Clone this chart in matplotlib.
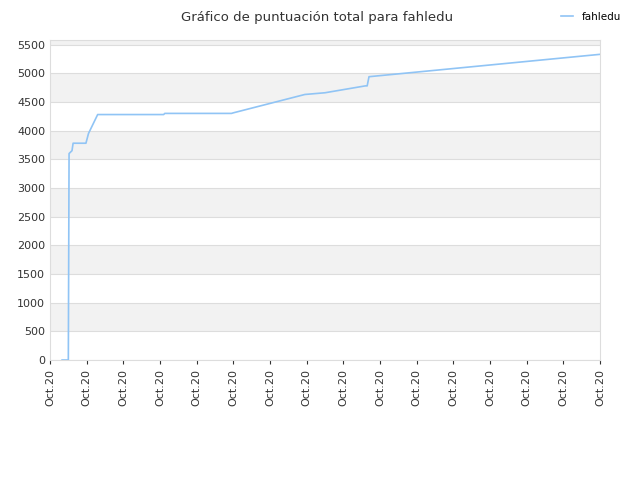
import matplotlib
matplotlib.use("Agg")
import matplotlib.pyplot as plt

x_vals = [0.33, 0.5, 0.52, 0.6, 0.63, 0.98, 1.05, 1.3, 3.1, 3.13, 4.95, 5.0, 6.95, 7.5, 8.6, 8.65, 8.7, 15.0]
y_vals = [0, 0, 3600, 3650, 3780, 3780, 3950, 4280, 4280, 4300, 4300, 4310, 4630, 4660, 4780, 4780, 4940, 5330]
tick_labels = ["Oct.20"] * 16

fig = plt.figure(figsize=(6.4, 4.8), dpi=100)
ax = fig.add_axes([50/640, 1-360/480, 550/640, 320/480])
ymax = 5580
for lo in range(500, 6000, 1000):
    ax.axhspan(lo, min(lo + 500, ymax), color="#f2f2f2", zorder=0, lw=0)
for y in range(0, 6000, 500):
    ax.axhline(y, color="#dddddd", lw=0.8, zorder=1)
ax.plot(x_vals, y_vals, color="#90c4f5", lw=1.2, zorder=3, label="fahledu")
ax.set_xlim(0, 15)
ax.set_ylim(0, ymax)
ax.set_yticks(range(0, 6000, 500))
ax.set_xticks(range(16))
ax.set_xticklabels(tick_labels, rotation=90)
ax.tick_params(labelsize=8, colors="#333333", length=3)
ax.tick_params(axis="y", length=0)
for s in ax.spines.values():
    s.set_color("#dddddd")
fig.text(0.495, 0.978, "Gráfico de puntuación total para fahledu", ha="center", va="top", fontsize=9.5, color="#333333")
fig.legend(loc="upper right", bbox_to_anchor=(0.985, 0.995), frameon=False, fontsize=7.5, handlelength=1.2)
fig.savefig("out.png")
